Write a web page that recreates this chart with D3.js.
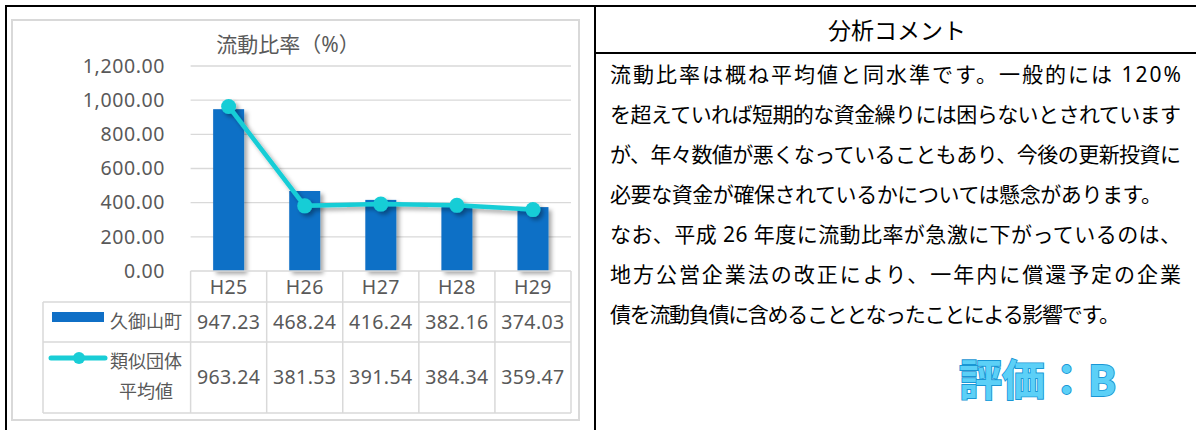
<!DOCTYPE html>
<html>
<head>
<meta charset="utf-8">
<title>流動比率</title>
<script src="https://d3js.org/d3.v7.min.js"></script>
<style>
  body { margin: 0; background: #fff; }
  svg { display: block; font-family: "Noto Sans", "Noto Sans CJK JP", sans-serif; }
</style>
</head>
<body>
<script>
// chart data
var categories = ["H25", "H26", "H27", "H28", "H29"];
var townValues = [947.23, 468.24, 416.24, 382.16, 374.03];   // 久御山町
var avgValues  = [963.24, 381.53, 391.54, 384.34, 359.47];   // 類似団体平均値
var yTicks = [0, 200, 400, 600, 800, 1000, 1200];
var townName = "久御山町";
var avgNameLines = ["類似団体", "平均値"];
var chartTitle = "流動比率（%）";
var commentTitle = "分析コメント";
var commentLines = [
  "流動比率は概ね平均値と同水準です。一般的には 120%",
  "を超えていれば短期的な資金繰りには困らないとされています",
  "が、年々数値が悪くなっていることもあり、今後の更新投資に",
  "必要な資金が確保されているかについては懸念があります。",
  "なお、平成 26 年度に流動比率が急激に下がっているのは、",
  "地方公営企業法の改正により、一年内に償還予定の企業",
  "債を流動負債に含めることとなったことによる影響です。"
];
var commentWidths = [571, 571, 571, 552, 571, 571, 510];
var rating = "評価：B";

var width = 1196, height = 430;
var grid = "#d9d9d9", textGray = "#595959";
var barColor = "#0f6fc6", lineColor = "#19cdd6";

var svg = d3.select("body").append("svg")
  .attr("width", width)
  .attr("height", height);

var defs = svg.append("defs");
var shadow = defs.append("filter").attr("id", "shadow")
  .attr("x", "-30%").attr("y", "-10%").attr("width", "160%").attr("height", "130%");
shadow.append("feDropShadow")
  .attr("dx", 3).attr("dy", 3).attr("stdDeviation", 2.2)
  .attr("flood-color", "#000").attr("flood-opacity", 0.35);

// outer frame
svg.append("line").attr("x1", 5).attr("x2", width).attr("y1", 6).attr("y2", 6)
  .attr("stroke", "#000").attr("stroke-width", 2);
svg.append("line").attr("x1", 6).attr("x2", 6).attr("y1", 5).attr("y2", height)
  .attr("stroke", "#000").attr("stroke-width", 2);
svg.append("line").attr("x1", 595).attr("x2", 595).attr("y1", 5).attr("y2", height)
  .attr("stroke", "#000").attr("stroke-width", 2);
svg.append("line").attr("x1", 595).attr("x2", width).attr("y1", 53).attr("y2", 53)
  .attr("stroke", "#000").attr("stroke-width", 2);

// chart box
svg.append("rect").attr("x", 12).attr("y", 20).attr("width", 567).attr("height", 400)
  .attr("fill", "none").attr("stroke", grid).attr("stroke-width", 2);

svg.append("text")
  .attr("x", 288).attr("y", 45).attr("dy", "0.35em")
  .attr("text-anchor", "middle")
  .attr("font-size", 21).attr("fill", textGray)
  .text(chartTitle);

// scales
var x = d3.scaleBand().domain(categories).range([190.6, 571]).paddingInner(0);
var y = d3.scaleLinear().domain([0, 1200]).range([271, 66]);
var barW = 31;

// gridlines
svg.append("g").selectAll("line")
  .data(yTicks.slice(1))
  .enter().append("line")
  .attr("x1", x.range()[0]).attr("x2", x.range()[1])
  .attr("y1", function(d) { return y(d); })
  .attr("y2", function(d) { return y(d); })
  .attr("stroke", grid).attr("stroke-width", 1.4);

// y axis labels
svg.append("g").selectAll("text")
  .data(yTicks)
  .enter().append("text")
  .attr("x", 165)
  .attr("y", function(d) { return y(d); })
  .attr("dy", "0.35em")
  .attr("text-anchor", "end")
  .attr("font-size", 19.5).attr("letter-spacing", 0.6).attr("fill", textGray)
  .text(d3.format(",.2f"));

// bars
svg.append("g").attr("filter", "url(#shadow)").selectAll("rect")
  .data(townValues)
  .enter().append("rect")
  .attr("x", function(d, i) { return x(categories[i]) + x.bandwidth() / 2 - barW / 2; })
  .attr("y", function(d) { return y(d); })
  .attr("width", barW)
  .attr("height", function(d) { return y(0) - y(d); })
  .attr("fill", barColor);

// line + markers
var lineGen = d3.line()
  .x(function(d, i) { return x(categories[i]) + x.bandwidth() / 2; })
  .y(function(d) { return y(d); });
var lg = svg.append("g").attr("filter", "url(#shadow)");
lg.append("path")
  .datum(avgValues)
  .attr("d", lineGen)
  .attr("fill", "none")
  .attr("stroke", lineColor)
  .attr("stroke-width", 4.5)
  .attr("stroke-linejoin", "round");
lg.selectAll("circle")
  .data(avgValues)
  .enter().append("circle")
  .attr("cx", function(d, i) { return x(categories[i]) + x.bandwidth() / 2; })
  .attr("cy", function(d) { return y(d); })
  .attr("r", 7.5)
  .attr("fill", lineColor);

// data table
var rowTop = [271, 302, 342, 413];
var tableLeft = 43, tableRight = x.range()[1];
var tbl = svg.append("g").attr("stroke", grid).attr("stroke-width", 1.5);
tbl.append("line").attr("x1", x.range()[0]).attr("x2", tableRight)
  .attr("y1", rowTop[0]).attr("y2", rowTop[0]);
rowTop.slice(1).forEach(function(r) {
  tbl.append("line").attr("x1", tableLeft).attr("x2", tableRight).attr("y1", r).attr("y2", r);
});
tbl.append("line").attr("x1", tableLeft).attr("x2", tableLeft)
  .attr("y1", rowTop[1]).attr("y2", rowTop[3]);
categories.forEach(function(c) {
  tbl.append("line").attr("x1", x(c)).attr("x2", x(c))
    .attr("y1", rowTop[0]).attr("y2", rowTop[3]);
});
tbl.append("line").attr("x1", tableRight).attr("x2", tableRight)
  .attr("y1", rowTop[0]).attr("y2", rowTop[3]);

var cellText = function(sel, rowY) {
  sel.enter().append("text")
    .attr("x", function(d, i) { return x(categories[i]) + x.bandwidth() / 2; })
    .attr("y", rowY)
    .attr("dy", "0.35em")
    .attr("text-anchor", "middle")
    .attr("font-size", 19.5).attr("letter-spacing", 0.4).attr("fill", textGray)
    .text(function(d) { return typeof d === "number" ? d3.format(".2f")(d) : d; });
};
cellText(svg.append("g").selectAll("text").data(categories), 287);
cellText(svg.append("g").selectAll("text").data(townValues), 322);
cellText(svg.append("g").selectAll("text").data(avgValues), 377);

// legend keys in table
svg.append("rect").attr("x", 52).attr("y", 312).attr("width", 52).attr("height", 10)
  .attr("fill", barColor);
svg.append("text").attr("x", 146).attr("y", 322).attr("dy", "0.35em")
  .attr("text-anchor", "middle").attr("font-size", 18).attr("fill", textGray)
  .text(townName);
svg.append("line").attr("x1", 51).attr("x2", 105).attr("y1", 358).attr("y2", 358)
  .attr("stroke", lineColor).attr("stroke-width", 5).attr("stroke-linecap", "round");
svg.append("circle").attr("cx", 79).attr("cy", 358).attr("r", 6).attr("fill", lineColor);
svg.append("g").selectAll("text")
  .data(avgNameLines)
  .enter().append("text")
  .attr("x", 146)
  .attr("y", function(d, i) { return 362 + i * 30; })
  .attr("dy", "0.35em")
  .attr("text-anchor", "middle").attr("font-size", 18).attr("fill", textGray)
  .text(function(d) { return d; });

// comment panel
svg.append("text")
  .attr("x", 897).attr("y", 31).attr("dy", "0.35em")
  .attr("text-anchor", "middle")
  .attr("font-size", 23).attr("fill", "#000")
  .text(commentTitle);

svg.append("g").selectAll("text")
  .data(commentLines)
  .enter().append("text")
  .attr("x", 610)
  .attr("y", function(d, i) { return 75 + i * 40; })
  .attr("dy", "0.35em")
  .attr("font-size", 21).attr("fill", "#000")
  .attr("textLength", function(d, i) { return commentWidths[i]; })
  .attr("lengthAdjust", "spacing")
  .text(function(d) { return d; });

svg.append("text")
  .attr("x", 959).attr("y", 381).attr("dy", "0.35em")
  .attr("font-size", 43).attr("font-weight", "bold")
  .attr("fill", "#5cd0f7").attr("stroke", "#1a96d4").attr("stroke-width", 1.8)
  .attr("paint-order", "stroke")
  .text(rating);
</script>
</body>
</html>
